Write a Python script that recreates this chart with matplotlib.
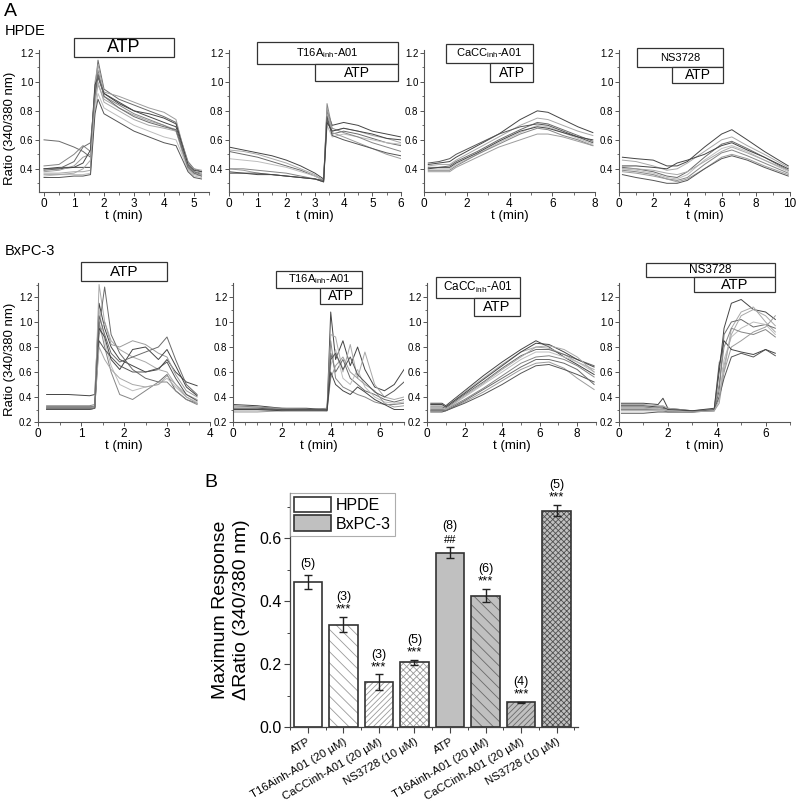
import matplotlib
matplotlib.use('Agg')
import matplotlib.pyplot as plt
from matplotlib.patches import Rectangle
from matplotlib.transforms import blended_transform_factory
from matplotlib.ticker import MultipleLocator

plt.rcParams['font.family'] = ['Liberation Sans', 'DejaVu Sans']
plt.rcParams['mathtext.fontset'] = 'custom'
plt.rcParams['mathtext.rm'] = 'Liberation Sans'
plt.rcParams['mathtext.it'] = 'Liberation Sans:italic'
plt.rcParams['hatch.linewidth'] = 0.6

# ---------------- Panel A data ----------------
# HPDE, ATP
t_h_atp = [0, 0.5, 1.0, 1.3, 1.55, 1.7, 1.8, 2.0, 2.5, 3.0, 3.5, 4.0, 4.4, 4.6, 4.8, 5.0, 5.25]
y_h_atp = [
    [0.40, 0.40, 0.41, 0.41, 0.41, 0.90, 1.05, 0.92, 0.86, 0.80, 0.76, 0.72, 0.69, 0.55, 0.42, 0.38, 0.36],
    [0.37, 0.37, 0.38, 0.38, 0.39, 0.85, 0.98, 0.88, 0.82, 0.77, 0.73, 0.70, 0.67, 0.52, 0.40, 0.36, 0.35],
    [0.60, 0.59, 0.55, 0.52, 0.48, 0.95, 1.15, 0.95, 0.88, 0.84, 0.80, 0.76, 0.72, 0.58, 0.45, 0.40, 0.38],
    [0.35, 0.36, 0.36, 0.36, 0.37, 0.80, 0.92, 0.82, 0.76, 0.70, 0.66, 0.62, 0.60, 0.50, 0.39, 0.35, 0.34],
    [0.42, 0.43, 0.50, 0.56, 0.52, 0.95, 1.08, 0.90, 0.84, 0.78, 0.74, 0.70, 0.66, 0.55, 0.42, 0.38, 0.37],
    [0.38, 0.39, 0.42, 0.48, 0.50, 1.00, 1.12, 0.93, 0.90, 0.86, 0.82, 0.79, 0.74, 0.58, 0.44, 0.40, 0.39],
    [0.34, 0.34, 0.35, 0.35, 0.36, 0.78, 0.88, 0.78, 0.72, 0.66, 0.62, 0.58, 0.56, 0.47, 0.38, 0.34, 0.33],
    [0.40, 0.41, 0.41, 0.44, 0.53, 0.98, 1.03, 0.92, 0.85, 0.80, 0.78, 0.75, 0.71, 0.57, 0.43, 0.39, 0.38],
    [0.36, 0.36, 0.37, 0.40, 0.46, 0.88, 1.00, 0.86, 0.80, 0.74, 0.70, 0.68, 0.66, 0.53, 0.41, 0.37, 0.36],
    [0.39, 0.40, 0.45, 0.55, 0.58, 0.92, 1.05, 0.90, 0.82, 0.76, 0.72, 0.69, 0.67, 0.54, 0.41, 0.37, 0.35],
]
# HPDE, T16Ainh-A01 then ATP
t_h_t16 = [0, 0.5, 1.0, 1.5, 2.0, 2.5, 3.0, 3.3, 3.42, 3.6, 4.0, 4.5, 5.0, 5.5, 6.0]
y_h_t16 = [
    [0.55, 0.53, 0.51, 0.49, 0.46, 0.42, 0.37, 0.33, 0.80, 0.70, 0.72, 0.70, 0.66, 0.64, 0.62],
    [0.53, 0.52, 0.50, 0.47, 0.44, 0.40, 0.36, 0.32, 0.78, 0.66, 0.68, 0.66, 0.63, 0.61, 0.58],
    [0.52, 0.50, 0.48, 0.45, 0.42, 0.39, 0.35, 0.32, 0.74, 0.64, 0.66, 0.64, 0.61, 0.58, 0.56],
    [0.47, 0.46, 0.45, 0.43, 0.41, 0.38, 0.35, 0.32, 0.70, 0.62, 0.64, 0.62, 0.60, 0.58, 0.57],
    [0.40, 0.40, 0.39, 0.38, 0.37, 0.35, 0.33, 0.31, 0.85, 0.68, 0.65, 0.62, 0.58, 0.55, 0.52],
    [0.40, 0.39, 0.37, 0.36, 0.35, 0.34, 0.33, 0.31, 0.82, 0.65, 0.62, 0.58, 0.54, 0.50, 0.47],
    [0.38, 0.37, 0.37, 0.36, 0.35, 0.34, 0.33, 0.32, 0.76, 0.63, 0.60, 0.57, 0.54, 0.51, 0.49],
    [0.37, 0.37, 0.36, 0.36, 0.35, 0.34, 0.33, 0.31, 0.72, 0.66, 0.68, 0.66, 0.64, 0.61, 0.60],
]
# HPDE, CaCCinh-A01 then ATP
t_h_cacc = [0.2, 0.7, 1.2, 1.5, 2.5, 3.5, 4.5, 5.3, 5.8, 6.5, 7.2, 7.9]
y_h_cacc = [
    [0.43, 0.44, 0.45, 0.48, 0.56, 0.64, 0.74, 0.80, 0.79, 0.74, 0.69, 0.65],
    [0.42, 0.43, 0.43, 0.46, 0.54, 0.62, 0.70, 0.75, 0.74, 0.70, 0.66, 0.63],
    [0.41, 0.41, 0.42, 0.45, 0.52, 0.60, 0.67, 0.72, 0.71, 0.67, 0.63, 0.59],
    [0.40, 0.40, 0.40, 0.43, 0.50, 0.58, 0.65, 0.70, 0.69, 0.65, 0.61, 0.57],
    [0.39, 0.39, 0.39, 0.42, 0.50, 0.57, 0.64, 0.68, 0.67, 0.63, 0.60, 0.56],
    [0.38, 0.38, 0.38, 0.41, 0.48, 0.55, 0.60, 0.64, 0.64, 0.62, 0.59, 0.56],
    [0.44, 0.45, 0.47, 0.50, 0.57, 0.64, 0.69, 0.71, 0.70, 0.66, 0.62, 0.58],
    [0.40, 0.41, 0.41, 0.44, 0.51, 0.59, 0.66, 0.69, 0.68, 0.65, 0.62, 0.60],
]
# HPDE, NS3728 then ATP
t_h_ns = [0.2, 1.0, 2.0, 2.8, 3.4, 4.0, 5.0, 6.0, 6.6, 7.5, 8.5, 9.9]
y_h_ns = [
    [0.48, 0.47, 0.46, 0.42, 0.42, 0.45, 0.55, 0.64, 0.67, 0.60, 0.52, 0.42],
    [0.46, 0.45, 0.42, 0.39, 0.40, 0.44, 0.52, 0.60, 0.62, 0.56, 0.50, 0.41],
    [0.41, 0.40, 0.38, 0.35, 0.34, 0.38, 0.48, 0.57, 0.59, 0.54, 0.48, 0.39],
    [0.40, 0.39, 0.37, 0.34, 0.33, 0.36, 0.46, 0.54, 0.56, 0.52, 0.46, 0.38],
    [0.39, 0.38, 0.36, 0.33, 0.32, 0.34, 0.43, 0.51, 0.53, 0.49, 0.44, 0.37],
    [0.38, 0.37, 0.35, 0.33, 0.31, 0.33, 0.40, 0.48, 0.50, 0.47, 0.42, 0.36],
    [0.36, 0.34, 0.32, 0.30, 0.30, 0.32, 0.40, 0.47, 0.49, 0.46, 0.41, 0.35],
    [0.42, 0.42, 0.41, 0.40, 0.44, 0.46, 0.50, 0.56, 0.58, 0.53, 0.48, 0.40],
    [0.40, 0.40, 0.39, 0.37, 0.36, 0.38, 0.45, 0.52, 0.55, 0.51, 0.46, 0.39],
]
# BxPC-3, ATP
t_b_atp = [0.2, 0.7, 1.2, 1.32, 1.42, 1.55, 1.7, 1.9, 2.2, 2.5, 2.8, 3.0, 3.2, 3.45, 3.7]
y_b_atp = [
    [0.42, 0.42, 0.41, 0.42, 1.15, 0.95, 0.80, 0.70, 0.65, 0.60, 0.62, 0.70, 0.60, 0.52, 0.49],
    [0.31, 0.31, 0.31, 0.32, 1.30, 1.00, 0.85, 0.78, 0.72, 0.68, 0.62, 0.60, 0.50, 0.42, 0.38],
    [0.30, 0.30, 0.30, 0.31, 0.95, 1.28, 0.90, 0.75, 0.62, 0.55, 0.52, 0.58, 0.45, 0.38, 0.35],
    [0.32, 0.32, 0.32, 0.33, 1.10, 0.85, 0.65, 0.50, 0.45, 0.48, 0.50, 0.55, 0.48, 0.40, 0.36],
    [0.33, 0.33, 0.33, 0.34, 1.00, 0.80, 0.60, 0.42, 0.38, 0.45, 0.52, 0.52, 0.45, 0.38, 0.34],
    [0.31, 0.31, 0.31, 0.32, 0.90, 1.00, 0.82, 0.80, 0.85, 0.82, 0.75, 0.72, 0.58, 0.45, 0.40],
    [0.30, 0.30, 0.30, 0.31, 0.85, 0.78, 0.72, 0.65, 0.60, 0.60, 0.63, 0.68, 0.55, 0.42, 0.37],
    [0.32, 0.32, 0.32, 0.32, 0.95, 0.88, 0.70, 0.62, 0.78, 0.80, 0.70, 0.78, 0.65, 0.48, 0.41],
    [0.31, 0.31, 0.31, 0.32, 0.80, 0.70, 0.62, 0.55, 0.50, 0.48, 0.50, 0.57, 0.50, 0.40, 0.35],
    [0.31, 0.31, 0.31, 0.31, 1.05, 0.90, 0.75, 0.68, 0.72, 0.76, 0.80, 0.88, 0.70, 0.50, 0.42],
]
# BxPC-3, T16Ainh-A01 then ATP
t_b_t16 = [0, 1.0, 2.0, 3.0, 3.85, 4.0, 4.2, 4.5, 4.8, 5.1, 5.4, 5.8, 6.2, 6.6, 7.0]
y_b_t16 = [
    [0.34, 0.33, 0.31, 0.31, 0.30, 1.08, 0.70, 0.85, 0.65, 0.80, 0.62, 0.48, 0.45, 0.50, 0.62],
    [0.32, 0.32, 0.30, 0.30, 0.29, 0.90, 0.88, 0.60, 0.82, 0.55, 0.76, 0.50, 0.40, 0.38, 0.40],
    [0.30, 0.30, 0.30, 0.30, 0.30, 0.75, 0.60, 0.70, 0.55, 0.50, 0.45, 0.42, 0.38, 0.36, 0.38],
    [0.29, 0.29, 0.29, 0.30, 0.30, 0.65, 0.78, 0.55, 0.50, 0.62, 0.48, 0.40, 0.36, 0.35, 0.36],
    [0.33, 0.32, 0.31, 0.30, 0.31, 0.85, 0.55, 0.48, 0.45, 0.42, 0.40, 0.36, 0.34, 0.34, 0.35],
    [0.28, 0.28, 0.29, 0.29, 0.29, 0.55, 0.65, 0.72, 0.60, 0.55, 0.50, 0.45, 0.35, 0.32, 0.33],
    [0.31, 0.31, 0.30, 0.30, 0.30, 0.70, 0.75, 0.62, 0.72, 0.58, 0.52, 0.44, 0.40, 0.45, 0.52],
    [0.30, 0.30, 0.29, 0.29, 0.29, 0.60, 0.50, 0.45, 0.42, 0.48, 0.44, 0.38, 0.34, 0.30, 0.30],
]
# BxPC-3, CaCCinh-A01 then ATP
t_b_cacc = [0.2, 0.8, 1.0, 2.0, 3.0, 4.0, 5.0, 5.8, 6.5, 7.3, 8.0, 8.9]
y_b_cacc = [
    [0.35, 0.35, 0.33, 0.45, 0.57, 0.68, 0.78, 0.85, 0.80, 0.72, 0.66, 0.58],
    [0.33, 0.33, 0.32, 0.44, 0.55, 0.66, 0.76, 0.80, 0.79, 0.74, 0.68, 0.62],
    [0.32, 0.32, 0.31, 0.42, 0.52, 0.63, 0.73, 0.78, 0.78, 0.74, 0.70, 0.65],
    [0.31, 0.31, 0.30, 0.40, 0.50, 0.60, 0.70, 0.76, 0.76, 0.72, 0.68, 0.60],
    [0.30, 0.30, 0.30, 0.38, 0.47, 0.57, 0.67, 0.72, 0.73, 0.70, 0.65, 0.56],
    [0.29, 0.29, 0.29, 0.36, 0.44, 0.53, 0.62, 0.67, 0.68, 0.63, 0.55, 0.46],
    [0.28, 0.28, 0.29, 0.35, 0.42, 0.50, 0.59, 0.65, 0.66, 0.62, 0.58, 0.52],
    [0.34, 0.34, 0.32, 0.43, 0.54, 0.65, 0.76, 0.83, 0.82, 0.76, 0.70, 0.64],
    [0.31, 0.31, 0.30, 0.41, 0.51, 0.62, 0.72, 0.80, 0.81, 0.78, 0.72, 0.60],
    [0.29, 0.29, 0.29, 0.37, 0.46, 0.55, 0.64, 0.70, 0.70, 0.67, 0.62, 0.50],
]
# BxPC-3, NS3728 then ATP
t_b_ns = [0.1, 1.0, 1.6, 1.8, 2.0, 3.0, 3.9, 4.1, 4.3, 4.6, 5.0, 5.5, 6.0, 6.4]
y_b_ns = [
    [0.35, 0.35, 0.34, 0.39, 0.31, 0.29, 0.30, 0.60, 0.95, 1.15, 1.18, 1.10, 1.08, 1.02],
    [0.34, 0.34, 0.33, 0.33, 0.31, 0.29, 0.30, 0.68, 0.60, 0.95, 1.08, 1.12, 1.00, 0.92],
    [0.32, 0.32, 0.31, 0.31, 0.30, 0.29, 0.29, 0.45, 0.90, 1.00, 1.02, 0.96, 0.98, 0.95],
    [0.31, 0.31, 0.31, 0.30, 0.30, 0.28, 0.30, 0.40, 0.70, 0.88, 0.95, 1.00, 0.98, 0.90],
    [0.30, 0.30, 0.30, 0.30, 0.29, 0.28, 0.29, 0.50, 0.80, 0.95, 0.92, 0.90, 0.94, 0.88],
    [0.29, 0.29, 0.29, 0.29, 0.28, 0.28, 0.29, 0.35, 0.60, 0.80, 0.85, 0.92, 0.96, 1.05],
    [0.27, 0.27, 0.28, 0.28, 0.28, 0.28, 0.30, 0.40, 0.55, 0.72, 0.75, 0.72, 0.78, 0.73],
    [0.33, 0.33, 0.32, 0.32, 0.30, 0.29, 0.31, 0.65, 0.85, 0.78, 0.76, 0.74, 0.78, 0.75],
    [0.31, 0.31, 0.30, 0.30, 0.29, 0.28, 0.29, 0.38, 0.65, 0.90, 1.05, 1.10, 1.05, 0.97],
]

# ---------------- Panel B data ----------------
bar_labels = ['ATP', 'T16Ainh-A01 (20 µM)', 'CaCCinh-A01 (20 µM)', 'NS3728 (10 µM)',
              'ATP', 'T16Ainh-A01 (20 µM)', 'CaCCinh-A01 (20 µM)', 'NS3728 (10 µM)']
bar_means = [0.460, 0.325, 0.143, 0.205, 0.553, 0.417, 0.078, 0.687]
bar_errs = [0.022, 0.024, 0.024, 0.008, 0.017, 0.021, 0.002, 0.018]
bar_n = ['(5)', '(3)', '(3)', '(5)', '(8)', '(6)', '(4)', '(5)']
bar_sig = ['', '***', '***', '***', '##', '***', '***', '***']
groups = ['HPDE', 'BxPC-3']

# ---------------- Figure ----------------
W, H = 798, 802
fig = plt.figure(figsize=(W / 100, H / 100), dpi=100)


def px_axes(x0, y0, x1, y1):
    return fig.add_axes([x0 / W, 1 - y1 / H, (x1 - x0) / W, (y1 - y0) / H])


trace_colors = ['#444444', '#a8a8a8', '#6a6a6a', '#bdbdbd', '#858585', '#9c9c9c', '#555555']


def style_axes(ax, xlim, ylim, xmaj, xmin, ymaj, ymin, xlab_fs=8.5, ylab_fs=7):
    ax.set_xlim(*xlim)
    ax.set_ylim(*ylim)
    for s in ['top', 'right']:
        ax.spines[s].set_visible(False)
    for s in ['left', 'bottom']:
        ax.spines[s].set_linewidth(0.8)
        ax.spines[s].set_color('#555555')
    ax.xaxis.set_major_locator(MultipleLocator(xmaj))
    ax.xaxis.set_minor_locator(MultipleLocator(xmin))
    ax.yaxis.set_major_locator(MultipleLocator(ymaj))
    ax.yaxis.set_minor_locator(MultipleLocator(ymin))
    ax.tick_params(which='major', direction='out', length=3, width=0.7, color='#555555', pad=1)
    ax.tick_params(which='minor', direction='out', length=1.8, width=0.6, color='#555555')
    ax.tick_params(axis='x', labelsize=xlab_fs)
    ax.tick_params(axis='y', labelsize=ylab_fs)
    ax.set_xlabel('t (min)', fontsize=9.5, labelpad=0)
    ax.yaxis.set_major_formatter(matplotlib.ticker.FormatStrFormatter('%.1f'))


def draw_box(ax, x0, x1, f0, f1, text, fs):
    tr = blended_transform_factory(ax.transData, ax.transAxes)
    ax.add_patch(Rectangle((x0, f0), x1 - x0, f1 - f0, transform=tr, clip_on=False,
                           facecolor='white', edgecolor='#333333', linewidth=0.9, zorder=5))
    ax.text((x0 + x1) / 2, (f0 + f1) / 2, text, transform=tr, ha='center', va='center',
            fontsize=fs, zorder=6, clip_on=False)


def draw_traces(ax, t, ys):
    for i, y in enumerate(ys):
        ax.plot(t, y, color=trace_colors[i % len(trace_colors)], lw=0.7)


t16 = r'T16A$_{\mathrm{inh}}$-A01'
cacc = r'CaCC$_{\mathrm{inh}}$-A01'

# ---- top row (HPDE) ----
ylim_top = (0.24, 1.22)
ax1 = px_axes(39, 50, 209, 192)
draw_traces(ax1, t_h_atp, y_h_atp)
style_axes(ax1, (-0.167, 5.5), ylim_top, 1, 0.5, 0.2, 0.1)
draw_box(ax1, 1.0, 4.33, 0.951, 1.085, 'ATP', 13)
ax1.set_ylabel('Ratio (340/380 nm)', fontsize=9.5)
ax1.yaxis.set_label_coords(-0.135, 0.45)

ax2 = px_axes(229, 50, 401, 192)
draw_traces(ax2, t_h_t16, y_h_t16)
style_axes(ax2, (0, 6), ylim_top, 1, 0.5, 0.2, 0.1)
draw_box(ax2, 0.98, 5.9, 0.901, 1.056, t16, 8)
draw_box(ax2, 3.0, 5.9, 0.782, 0.901, 'ATP', 10)

ax3 = px_axes(424, 50, 595, 192)
draw_traces(ax3, t_h_cacc, y_h_cacc)
style_axes(ax3, (0, 8), ylim_top, 2, 1, 0.2, 0.1)
draw_box(ax3, 1.03, 5.1, 0.908, 1.042, cacc, 8)
draw_box(ax3, 3.1, 5.1, 0.775, 0.908, 'ATP', 10)

ax4 = px_axes(619, 50, 790, 192)
draw_traces(ax4, t_h_ns, y_h_ns)
style_axes(ax4, (0, 10), ylim_top, 2, 1, 0.2, 0.1)
draw_box(ax4, 1.05, 6.1, 0.880, 1.014, 'NS3728', 8)
draw_box(ax4, 3.1, 6.1, 0.768, 0.880, 'ATP', 10)

# ---- bottom row (BxPC-3) ----
ylim_bot = (0.2, 1.312)
bx1 = px_axes(38, 283, 210, 422)
draw_traces(bx1, t_b_atp, y_b_atp)
style_axes(bx1, (0, 4), ylim_bot, 1, 0.5, 0.2, 0.1)
draw_box(bx1, 1.0, 3.0, 1.014, 1.151, 'ATP', 11)
bx1.set_ylabel('Ratio (340/380 nm)', fontsize=9.5)
bx1.yaxis.set_label_coords(-0.13, 0.45)

bx2 = px_axes(233, 283, 404, 422)
draw_traces(bx2, t_b_t16, y_b_t16)
style_axes(bx2, (0, 7), ylim_bot, 2, 0.5, 0.2, 0.1)
draw_box(bx2, 1.75, 5.3, 0.964, 1.086, t16, 8)
draw_box(bx2, 3.55, 5.3, 0.849, 0.964, 'ATP', 10)

bx3 = px_axes(427, 283, 596, 422)
draw_traces(bx3, t_b_cacc, y_b_cacc)
style_axes(bx3, (0, 9), ylim_bot, 2, 1, 0.2, 0.1)
draw_box(bx3, 0.5, 4.95, 0.892, 1.043, cacc, 8.5)
draw_box(bx3, 2.5, 4.95, 0.763, 0.892, 'ATP', 10.5)

bx4 = px_axes(619, 283, 790, 422)
draw_traces(bx4, t_b_ns, y_b_ns)
style_axes(bx4, (0, 7), ylim_bot, 2, 1, 0.2, 0.1)
draw_box(bx4, 1.1, 6.4, 1.043, 1.144, 'NS3728', 8.5)
draw_box(bx4, 3.06, 6.4, 0.935, 1.043, 'ATP', 10.5)

# ---- figure labels ----
fig.text(4 / W, 1 - 12 / H, 'A', fontsize=14, ha='left', va='center')
fig.text(5 / W, 1 - 31 / H, 'HPDE', fontsize=10.5, ha='left', va='center')
fig.text(5 / W, 1 - 251 / H, 'BxPC-3', fontsize=10.5, ha='left', va='center')
fig.text(204 / W, 1 - 483 / H, 'B', fontsize=14, ha='left', va='center')

# ---- Panel B bar chart ----
axb = px_axes(290, 493, 578, 727)
xpos = list(range(1, len(bar_means) + 1))
face = ['white'] * 4 + ['#c0c0c0'] * 4
hatches = ['', '\\\\\\', '//////', 'xxxxx', '', '\\\\\\', '//////', 'xxxxxx']
hatch_col = ['#999999', '#9a9a9a', '#9a9a9a', '#9a9a9a', '#666666', '#6a6a6a', '#6a6a6a', '#505050']
bw = 0.8
for i in range(len(bar_means)):
    axb.bar(xpos[i], bar_means[i], width=bw, color=face[i], hatch=hatches[i],
            edgecolor=hatch_col[i], linewidth=0, zorder=2)
    axb.bar(xpos[i], bar_means[i], width=bw, facecolor='none', edgecolor='#333333',
            linewidth=1.2, zorder=3)
axb.errorbar(xpos, bar_means, yerr=bar_errs, fmt='none', ecolor='#222222', elinewidth=1,
             capsize=3, capthick=1, zorder=4)
for i in range(len(bar_means)):
    top = bar_means[i] + bar_errs[i]
    if bar_sig[i] == '##':
        axb.annotate(bar_sig[i], (xpos[i], top), xytext=(0, 1.5), textcoords='offset points',
                     ha='center', va='bottom', fontsize=8, annotation_clip=False)
        axb.annotate(bar_n[i], (xpos[i], top), xytext=(0, 11), textcoords='offset points',
                     ha='center', va='bottom', fontsize=9, annotation_clip=False)
    elif bar_sig[i]:
        axb.annotate(bar_sig[i], (xpos[i], top), xytext=(0, 1), textcoords='offset points',
                     ha='center', va='bottom', fontsize=9.5, annotation_clip=False)
        axb.annotate(bar_n[i], (xpos[i], top), xytext=(0, 10), textcoords='offset points',
                     ha='center', va='bottom', fontsize=9, annotation_clip=False)
    else:
        axb.annotate(bar_n[i], (xpos[i], top), xytext=(0, 4), textcoords='offset points',
                     ha='center', va='bottom', fontsize=9, annotation_clip=False)

axb.set_xlim(0.5, 8.6)
axb.set_ylim(0, 0.743)
for s in ['top', 'right']:
    axb.spines[s].set_visible(False)
for s in ['left', 'bottom']:
    axb.spines[s].set_linewidth(0.9)
    axb.spines[s].set_color('#444444')
axb.set_xticks(xpos)
axb.set_xticklabels(bar_labels, rotation=30, ha='right', rotation_mode='anchor', fontsize=8.2)
axb.xaxis.set_minor_locator(MultipleLocator(0.5))
axb.yaxis.set_major_locator(MultipleLocator(0.2))
axb.yaxis.set_minor_locator(MultipleLocator(0.1))
axb.yaxis.set_major_formatter(matplotlib.ticker.FormatStrFormatter('%.1f'))
axb.tick_params(which='major', direction='out', length=4, width=0.8, color='#444444')
axb.tick_params(which='minor', direction='out', length=2.5, width=0.7, color='#444444')
axb.tick_params(axis='y', labelsize=11.5, pad=2)
axb.tick_params(axis='x', pad=3)
axb.set_ylabel('Maximum Response\n\u0394Ratio (340/380 nm)', fontsize=14, linespacing=1.3)
axb.yaxis.set_label_coords(-0.14, 0.5)

leg_handles = [Rectangle((0, 0), 1, 1, facecolor='white', edgecolor='#333333', linewidth=1.2),
               Rectangle((0, 0), 1, 1, facecolor='#c0c0c0', edgecolor='#333333', linewidth=1.2)]
leg = axb.legend(leg_handles, groups, loc='upper left', bbox_to_anchor=(0.0, 1.0),
                 fontsize=11.5, frameon=True, fancybox=False, handlelength=2.3,
                 handleheight=1.1, borderpad=0.25, labelspacing=0.15, handletextpad=0.3,
                 borderaxespad=0.0)
leg.get_frame().set_edgecolor('#999999')
leg.get_frame().set_linewidth(0.8)

fig.savefig('out.png', dpi=100)
